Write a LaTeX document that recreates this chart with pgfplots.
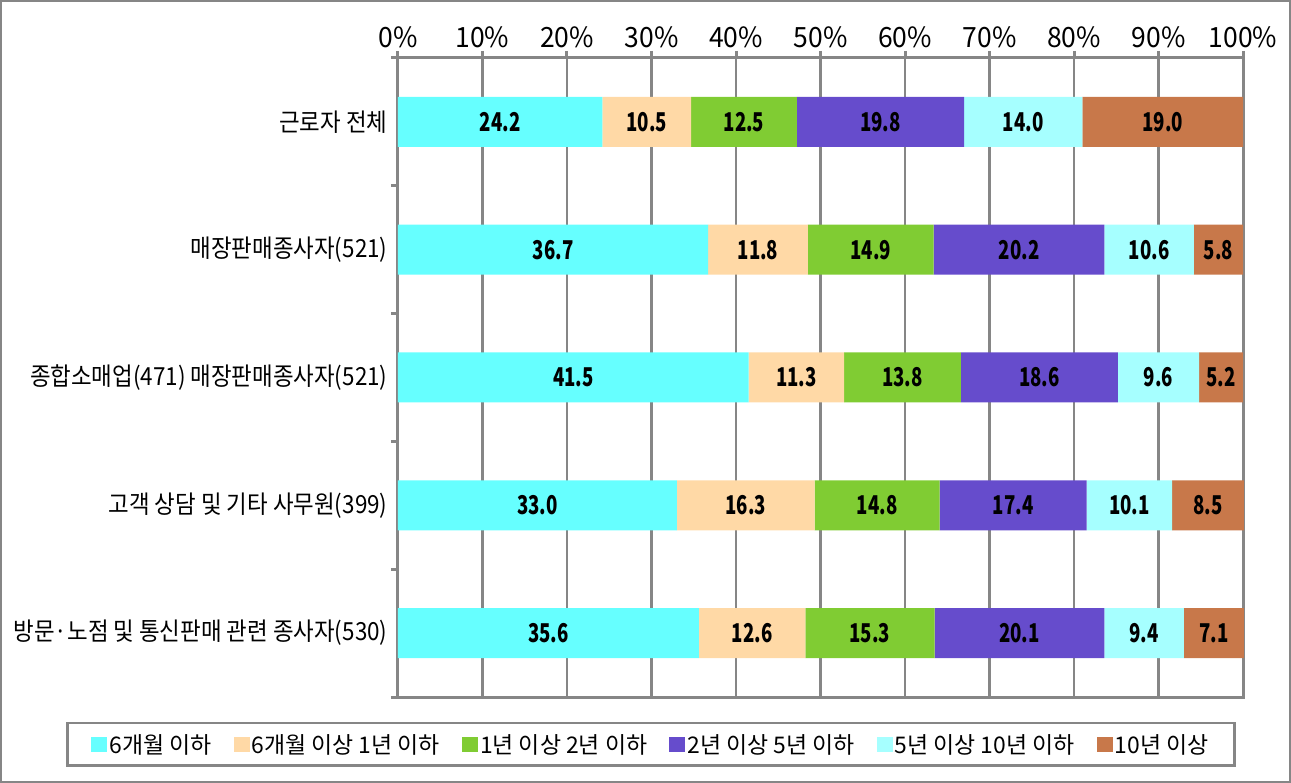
\documentclass[border=0pt]{standalone}
\usepackage{fontspec}
\usepackage{pgfplots}
\pgfplotsset{compat=1.18}
\usepackage{pgfplotstable}
\setmainfont{Noto Sans CJK KR}
\newfontfamily\catfont{Noto Sans CJK KR}[FakeStretch=0.9]
\newfontfamily\tickfont{Noto Sans CJK KR}[FakeStretch=0.95]
\newfontfamily\legfont{Noto Sans CJK KR}[FakeStretch=1.0]
\newfontfamily\barfont{Noto Sans CJK KR}[FakeStretch=0.72, BoldFeatures={FakeStretch=0.72}]
\definecolor{c1}{RGB}{102,255,255}
\definecolor{c2}{RGB}{255,217,166}
\definecolor{c3}{RGB}{128,204,51}
\definecolor{c4}{RGB}{102,76,204}
\definecolor{c5}{RGB}{166,255,255}
\definecolor{c6}{RGB}{200,120,74}
\definecolor{axisgray}{RGB}{134,134,134}
\pgfplotstableread{
idx a b c d e f
0 24.2 10.5 12.5 19.8 14.0 19.0
1 36.7 11.8 14.9 20.2 10.6 5.8
2 41.5 11.3 13.8 18.6 9.6 5.2
3 33.0 16.3 14.8 17.4 10.1 8.5
4 35.6 12.6 15.3 20.1 9.4 7.1
}\data
\begin{document}
\begin{tikzpicture}[x=1bp,y=1bp]
\useasboundingbox (-398,-86) rectangle (893,697);
\draw[axisgray, line width=2bp] (-397,-85) rectangle (892,696);
\begin{axis}[
  at={(0,0)}, anchor=south west,
  scale only axis, width=845bp, height=639bp,
  xbar stacked, bar width=50bp, clip=false,
  xmin=0, xmax=100, ymin=-0.5, ymax=4.5, y dir=reverse,
  xtick={0,10,...,100},
  xticklabels={0\%,10\%,20\%,30\%,40\%,50\%,60\%,70\%,80\%,90\%,100\%},
  xtick pos=right, xticklabel pos=right,
  xticklabel style={font=\tickfont\fontsize{28}{32}\selectfont, text=black},
  tick align=outside, major tick length=7bp,
  xmajorgrids, grid style={axisgray, line width=2.5bp},
  ytick={-0.5,0.5,...,4.5}, yticklabels={}, ytick pos=left,
  extra y ticks={0,1,2,3,4},
  extra y tick labels={근로자 전체,매장판매종사자(521),종합소매업(471) 매장판매종사자(521),고객 상담 및 기타 사무원(399),방문·노점 및 통신판매 관련 종사자(530)},
  extra y tick style={tick style={draw=none}, yticklabel style={font=\catfont\fontsize{25}{30}\selectfont, text=black}},
  axis line style={axisgray, line width=3bp},
  tick style={axisgray, line width=3bp},
  point meta=explicit,
  nodes near coords={\pgfmathprintnumber[fixed,fixed zerofill,precision=1,assume math mode=true]{\pgfplotspointmeta}},
  every node near coord/.append style={anchor=center, font=\barfont\bfseries\fontsize{26}{30}\selectfont, text=black},
  legend image code/.code={\fill[#1, draw=none] (0bp,-7.5bp) rectangle (16bp,7.5bp);},
  legend style={at={(0.2994,-0.039)}, anchor=north, legend columns=6, draw=axisgray, line width=2.5bp,
    font=\legfont\fontsize{23}{28}\selectfont, inner xsep=24bp, inner ysep=9bp,
    /tikz/every even column/.append style={column sep=20bp}, cells={anchor=west}},
]
\addplot[fill=c1, draw=none] table[x=a, y=idx, meta=a] \data;
\addplot[fill=c2, draw=none] table[x=b, y=idx, meta=b] \data;
\addplot[fill=c3, draw=none] table[x=c, y=idx, meta=c] \data;
\addplot[fill=c4, draw=none] table[x=d, y=idx, meta=d] \data;
\addplot[fill=c5, draw=none] table[x=e, y=idx, meta=e] \data;
\addplot[fill=c6, draw=none] table[x=f, y=idx, meta=f] \data;
\legend{6개월 이하,6개월 이상 1년 이하,1년 이상 2년 이하,2년 이상 5년 이하,5년 이상 10년 이하,10년 이상}
\end{axis}
\end{tikzpicture}
\end{document}
